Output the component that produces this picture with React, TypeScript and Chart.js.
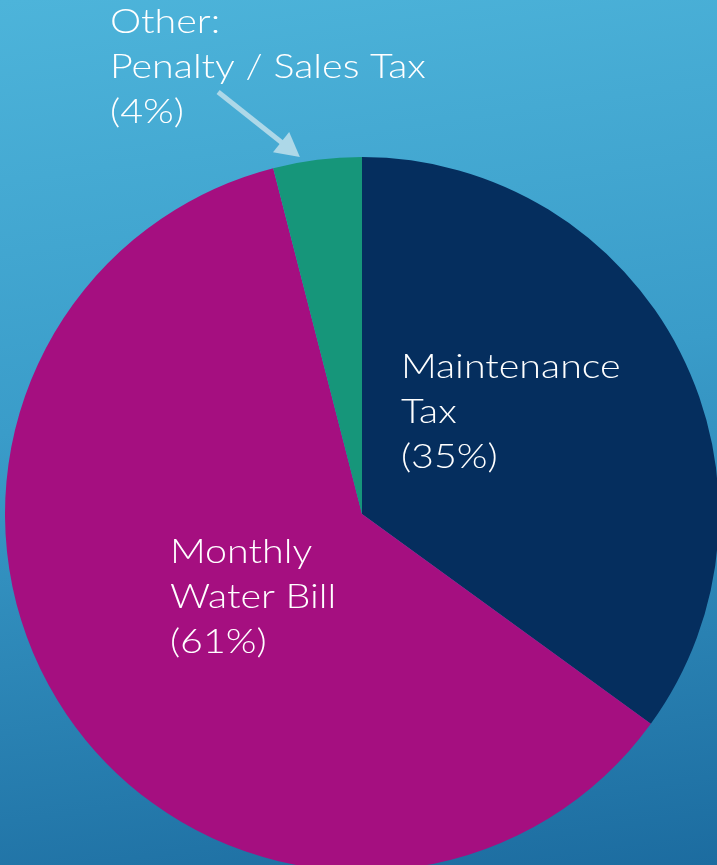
import React, { useEffect, useRef } from "react";
import { Chart, registerables } from "chart.js";

Chart.register(...registerables);

const categories = ["Maintenance Tax", "Monthly Water Bill", "Other: Penalty / Sales Tax"];
const shares = [35, 61, 4];
const labelLines = [
  ["Maintenance", "Tax", "(35%)"],
  ["Monthly", "Water Bill", "(61%)"],
  ["Other:", "Penalty / Sales Tax", "(4%)"],
];
const sliceColors = ["#052E5E", "#A50F80", "#16967A"];

// label anchors relative to pie centre, in fractions of the radius
const labelAnchors: [number, number][] = [
  [0.109, -0.412],
  [-0.538, 0.106],
  [-0.706, -1.378],
];
const arrowTail: [number, number] = [-0.403, -1.182];
const arrowTip: [number, number] = [-0.174, -1.0];

const labelPlugin = {
  id: "sliceLabels",
  afterDraw(chart: any) {
    const ctx = chart.ctx as CanvasRenderingContext2D;
    const arc = chart.getDatasetMeta(0).data[0] as any;
    const { x, y, outerRadius: r } = arc.getProps(["x", "y", "outerRadius"], true);
    ctx.save();
    ctx.fillStyle = "#ffffff";
    ctx.font = "300 34px Lato";
    ctx.textAlign = "left";
    ctx.textBaseline = "middle";
    const stretch = 1.16;
    labelLines.forEach((lines, i) => {
      const [dx, dy] = labelAnchors[i];
      lines.forEach((ln, j) => {
        const lx = x + dx * r;
        const ly = y + dy * r + j * 45;
        ctx.save();
        ctx.translate(lx, ly);
        ctx.scale(stretch, 1);
        ctx.fillText(ln, 0, 0);
        ctx.restore();
      });
    });
    // arrow
    const tx = x + arrowTail[0] * r, ty = y + arrowTail[1] * r;
    const hx = x + arrowTip[0] * r, hy = y + arrowTip[1] * r;
    const ang = Math.atan2(hy - ty, hx - tx);
    const headLen = 24, headHalf = 13;
    const bx = hx - Math.cos(ang) * headLen, by = hy - Math.sin(ang) * headLen;
    ctx.strokeStyle = "#ADD8E8";
    ctx.fillStyle = "#ADD8E8";
    ctx.lineWidth = 5;
    ctx.lineCap = "butt";
    ctx.beginPath();
    ctx.moveTo(tx, ty);
    ctx.lineTo(bx + Math.cos(ang) * 2, by + Math.sin(ang) * 2);
    ctx.stroke();
    ctx.beginPath();
    ctx.moveTo(hx, hy);
    ctx.lineTo(bx - Math.sin(ang) * headHalf, by + Math.cos(ang) * headHalf);
    ctx.lineTo(bx + Math.sin(ang) * headHalf, by - Math.cos(ang) * headHalf);
    ctx.closePath();
    ctx.fill();
    ctx.restore();
  },
};

export default function App() {
  const ref = useRef<HTMLCanvasElement | null>(null);
  useEffect(() => {
    if (!ref.current) return;
    const chart = new Chart(ref.current, {
      type: "pie",
      data: {
        labels: categories,
        datasets: [
          {
            data: shares,
            backgroundColor: sliceColors,
            borderWidth: 0,
          },
        ],
      },
      options: {
        responsive: false,
        animation: false,
        layout: { padding: { left: 5, top: 157, right: 11, bottom: 9 } },
        plugins: { legend: { display: false }, tooltip: { enabled: false } },
      },
      plugins: [labelPlugin],
    });
    return () => chart.destroy();
  }, []);
  return (
    <div
      style={{
        position: "fixed",
        left: 0,
        top: 0,
        width: 717,
        height: 865,
        overflow: "hidden",
        background: "linear-gradient(172deg, #4DB4DA 0%, #3A9CC9 45%, #1C6CA0 100%)",
      }}
    >
      <canvas ref={ref} width={730} height={880} style={{ display: "block", width: 730, height: 880 }} />
    </div>
  );
}
